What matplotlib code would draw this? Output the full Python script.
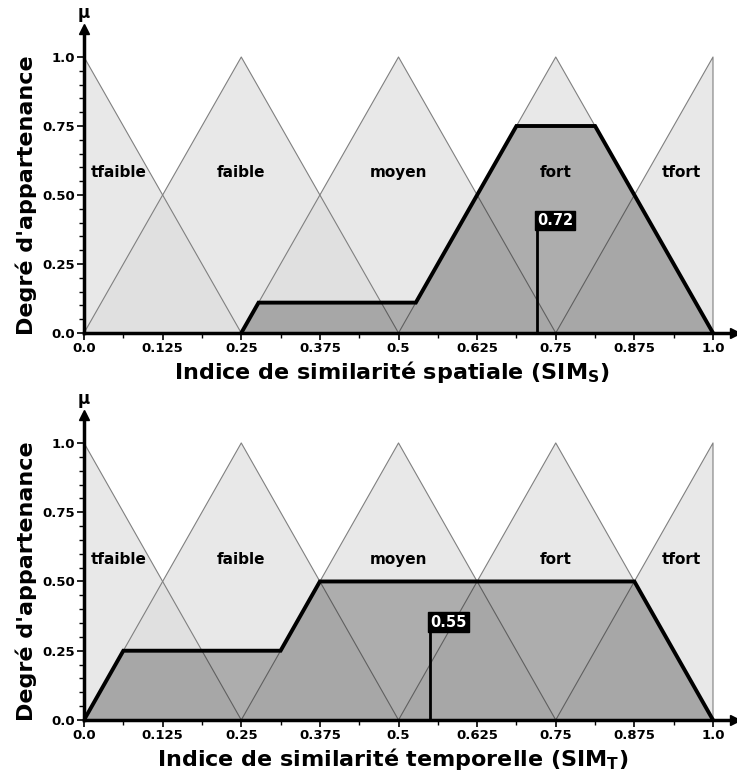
import numpy as np
import matplotlib.pyplot as plt

# fuzzy terms (triangles: left foot, peak, right foot)
terms = ['tfaible', 'faible', 'moyen', 'fort', 'tfort']
tri_a = [0.0, 0.0, 0.25, 0.5, 0.75]
tri_b = [0.0, 0.25, 0.5, 0.75, 1.0]
tri_c = [0.25, 0.5, 0.75, 1.0, 1.0]
label_x = [0.055, 0.25, 0.5, 0.75, 0.95]

# aggregated output
agg_x_s = [0.25, 0.2775, 0.5275, 0.6875, 0.8125, 1.0]
agg_y_s = [0.0, 0.11, 0.11, 0.75, 0.75, 0.0]
agg_x_t = [0.0, 0.0625, 0.3125, 0.375, 0.875, 1.0]
agg_y_t = [0.0, 0.25, 0.25, 0.5, 0.5, 0.0]

centroid_s = 0.72
centroid_t = 0.55
marker_h_s = 0.375
marker_h_t = 0.32

xticks = [0.0, 0.125, 0.25, 0.375, 0.5, 0.625, 0.75, 0.875, 1.0]
xticklabels = ['0.0', '0.125', '0.25', '0.375', '0.5', '0.625', '0.75', '0.875', '1.0']
yticks = [0.0, 0.25, 0.5, 0.75, 1.0]
yticklabels = ['0.0', '0.25', '0.50', '0.75', '1.0']

XMAX = 1.035
YMAX = 1.1


def draw(ax, agg_x, agg_y, centroid, mh, xlabel):
    for a, b, c in zip(tri_a, tri_b, tri_c):
        xs = [a, b, c]
        ys = [1.0 if a == b else 0.0, 1.0, 1.0 if b == c else 0.0]
        xs = [a] + xs + [c]
        ys = [0.0] + ys + [0.0]
        ax.fill(xs, ys, facecolor='#dcdcdc', alpha=0.65, edgecolor='none', zorder=1)
        ax.plot(xs, ys, color='#808080', lw=0.8, zorder=2)
    ax.fill(agg_x, agg_y, facecolor='black', alpha=0.25, edgecolor='none', zorder=3)
    ax.plot(agg_x, agg_y, color='black', lw=2.8, zorder=4, solid_joinstyle='miter')
    for name, lx in zip(terms, label_x):
        ax.text(lx, 0.58, name, ha='center', va='center', fontsize=11, fontweight='bold', zorder=5)
    ax.plot([centroid, centroid], [0, mh], color='black', lw=2, zorder=5)
    ax.text(centroid, mh + 0.006, '%.2f' % centroid, ha='left', va='bottom', color='white',
            fontsize=10.5, fontweight='bold', zorder=6,
            bbox=dict(boxstyle='square,pad=0.15', facecolor='black', edgecolor='black'))

    ax.set_xlim(0, XMAX)
    ax.set_ylim(0, YMAX)
    for s in ['top', 'right']:
        ax.spines[s].set_visible(False)
    for s in ['left', 'bottom']:
        ax.spines[s].set_linewidth(2.5)
        ax.spines[s].set_zorder(7)
    ax.plot(1, 0, '>k', ms=7, transform=ax.transAxes, clip_on=False, zorder=8)
    ax.plot(0, 1, '^k', ms=7, transform=ax.transAxes, clip_on=False, zorder=8)
    ax.text(0, 1.025, 'μ', transform=ax.transAxes, ha='center', va='bottom',
            fontsize=12, fontweight='bold')

    ax.set_xticks(xticks)
    ax.set_xticklabels(xticklabels, fontsize=9.5, fontweight='bold')
    ax.set_xticks([0.0625 + 0.125 * i for i in range(8)], minor=True)
    ax.set_yticks(yticks)
    ax.set_yticklabels(yticklabels, fontsize=9.5, fontweight='bold')
    ax.set_yticks([0.05 * i for i in range(21) if i % 5], minor=True)
    ax.tick_params(which='major', length=5, width=1.2, pad=1.5)
    ax.tick_params(which='minor', length=3.5, width=1.0)
    ax.set_xlabel(xlabel, fontsize=16, fontweight='bold')
    ax.set_ylabel("Degré d'appartenance", fontsize=16, fontweight='bold')
    ax.xaxis.set_label_coords(0.49 / XMAX, -0.085)
    ax.yaxis.set_label_coords(-0.072, 0.5 / YMAX)


fig = plt.figure(figsize=(7.37, 7.74), dpi=100)
ax1 = fig.add_axes([0.114, 0.5698, 0.8833, 0.3922])
ax2 = fig.add_axes([0.114, 0.0698, 0.8833, 0.3937])
draw(ax1, agg_x_s, agg_y_s, centroid_s, marker_h_s,
     r'Indice de similarité spatiale (SIM$_\mathbf{S}$)')
draw(ax2, agg_x_t, agg_y_t, centroid_t, marker_h_t,
     r'Indice de similarité temporelle (SIM$_\mathbf{T}$)')
fig.savefig('out.png', dpi=100)
